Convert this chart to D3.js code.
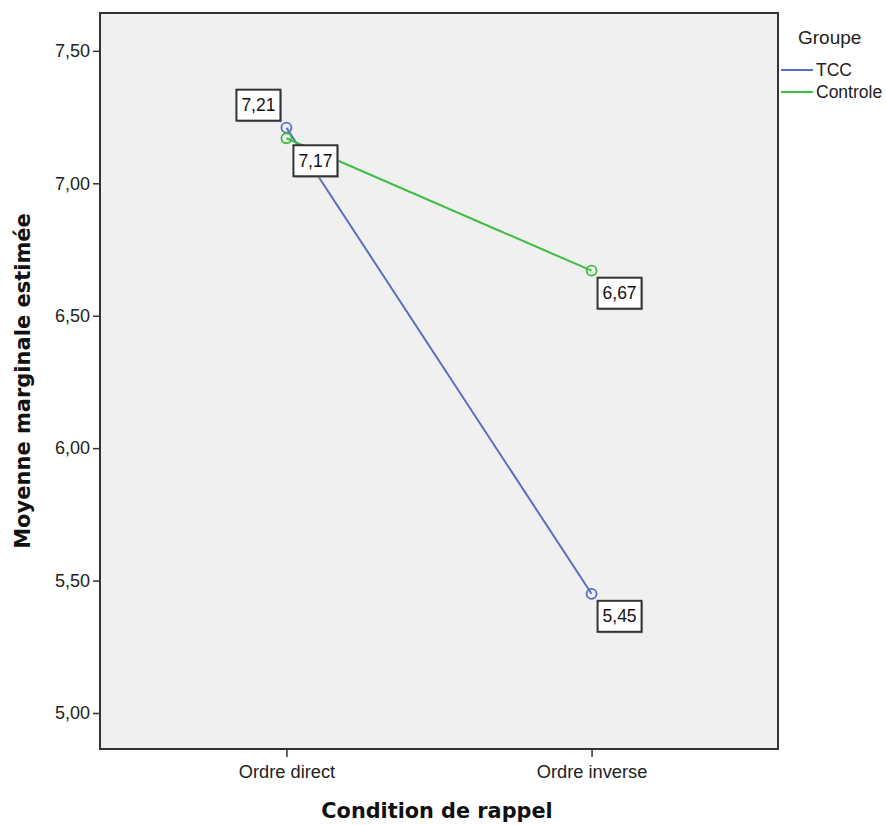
<!DOCTYPE html>
<html>
<head>
<meta charset="utf-8">
<script src="https://cdn.jsdelivr.net/npm/d3@7"></script>
<style>
  html, body { margin: 0; padding: 0; background: #ffffff; }
  svg { display: block; }
</style>
</head>
<body>
<svg id="chart" width="886" height="825"></svg>
<script>
const conditions = ["Ordre direct", "Ordre inverse"];
const groups = ["TCC", "Controle"];
const tccValues = [7.21, 5.45];
const controleValues = [7.17, 6.67];
const tccLabels = ["7,21", "5,45"];
const controleLabels = ["7,17", "6,67"];
const yTicks = [5.0, 5.5, 6.0, 6.5, 7.0, 7.5];
const yTickLabels = ["5,00", "5,50", "6,00", "6,50", "7,00", "7,50"];
const colors = ["#5a6ec6", "#3dbd42"];

const svg = d3.select("#chart");
const plot = { left: 100, top: 13, right: 778, bottom: 749 };

const x = d3.scalePoint().domain(conditions).range([plot.left, plot.right]).padding(0.611);
const y = d3.scaleLinear().domain([4.864, 7.643]).range([plot.bottom, plot.top]);

// plot background
svg.append("rect")
  .attr("x", plot.left).attr("y", plot.top)
  .attr("width", plot.right - plot.left).attr("height", plot.bottom - plot.top)
  .attr("fill", "#f0f0f0");

// y axis
const yAxis = svg.append("g")
  .attr("transform", `translate(${plot.left},0)`)
  .call(d3.axisLeft(y).tickValues(yTicks).tickFormat((d, i) => yTickLabels[i]).tickSize(7).tickPadding(3));
yAxis.select(".domain").remove();
yAxis.selectAll("line").attr("stroke", "#333").attr("stroke-width", 1.5);
yAxis.selectAll("text").attr("font-family", "'Liberation Sans', Arial, sans-serif").attr("font-size", 18).attr("fill", "#222");

// x axis
const xAxis = svg.append("g")
  .attr("transform", `translate(0,${plot.bottom})`)
  .call(d3.axisBottom(x).tickSize(8).tickPadding(8));
xAxis.select(".domain").remove();
xAxis.selectAll("line").attr("stroke", "#333").attr("stroke-width", 1.5);
xAxis.selectAll("text").attr("font-family", "'Liberation Sans', Arial, sans-serif").attr("font-size", 18.3).attr("fill", "#222");

// frame
svg.append("rect")
  .attr("x", plot.left).attr("y", plot.top)
  .attr("width", plot.right - plot.left).attr("height", plot.bottom - plot.top)
  .attr("fill", "none").attr("stroke", "#333").attr("stroke-width", 2);

// series
const series = [
  { name: groups[0], values: tccValues, labels: tccLabels, color: colors[0], offsets: [[-50, -38], [6, 7]] },
  { name: groups[1], values: controleValues, labels: controleLabels, color: colors[1], offsets: [[7, 7], [6, 7]] }
];

const line = d3.line().x((d, i) => x(conditions[i])).y(d => y(d));

series.forEach(s => {
  svg.append("path")
    .attr("d", line(s.values))
    .attr("fill", "none").attr("stroke", s.color).attr("stroke-width", 2);
});
series.forEach(s => {
  svg.selectAll(null).data(s.values).enter().append("circle")
    .attr("cx", (d, i) => x(conditions[i])).attr("cy", d => y(d))
    .attr("r", 5).attr("fill", "none").attr("stroke", s.color).attr("stroke-width", 1.8);
});

// value labels
const bw = 44, bh = 31;
series.forEach(s => {
  s.values.forEach((v, i) => {
    const px = x(conditions[i]), py = y(v);
    const bx = px + s.offsets[i][0], by = py + s.offsets[i][1];
    const g = svg.append("g");
    g.append("rect").attr("x", bx + 1.5).attr("y", by + 1.5).attr("width", bw).attr("height", bh)
      .attr("fill", "#bbbbbb");
    g.append("rect").attr("x", bx).attr("y", by).attr("width", bw).attr("height", bh)
      .attr("fill", "#ffffff").attr("stroke", "#333").attr("stroke-width", 2);
    g.append("text").attr("x", bx + bw / 2).attr("y", by + bh / 2 + 6)
      .attr("text-anchor", "middle")
      .attr("font-family", "'Liberation Sans', Arial, sans-serif").attr("font-size", 17.5)
      .attr("fill", "#111").text(s.labels[i]);
  });
});

// axis titles
svg.append("text")
  .attr("transform", `translate(30,${(plot.top + plot.bottom) / 2}) rotate(-90)`)
  .attr("text-anchor", "middle")
  .attr("font-family", "'DejaVu Sans', sans-serif").attr("font-weight", "bold").attr("font-size", 21)
  .attr("fill", "#111").text("Moyenne marginale estimée");
svg.append("text")
  .attr("x", 437).attr("y", 818)
  .attr("text-anchor", "middle")
  .attr("font-family", "'DejaVu Sans', sans-serif").attr("font-weight", "bold").attr("font-size", 20.8)
  .attr("fill", "#111").text("Condition de rappel");

// legend
const legend = svg.append("g");
legend.append("text").attr("x", 798).attr("y", 44)
  .attr("font-family", "'Liberation Sans', Arial, sans-serif").attr("font-size", 19)
  .attr("fill", "#222").text("Groupe");
const ly = d3.scalePoint().domain(groups).range([70, 92]);
groups.forEach((gname, i) => {
  legend.append("line").attr("x1", 781).attr("x2", 813).attr("y1", ly(gname)).attr("y2", ly(gname))
    .attr("stroke", colors[i]).attr("stroke-width", 2);
  legend.append("text").attr("x", 816).attr("y", ly(gname) + 6)
    .attr("font-family", "'Liberation Sans', Arial, sans-serif").attr("font-size", 17.5)
    .attr("fill", "#222").text(gname);
});
</script>
</body>
</html>
